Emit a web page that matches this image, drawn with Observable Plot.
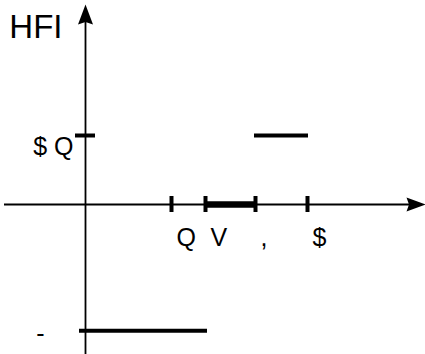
<!DOCTYPE html>
<html>
<head>
<meta charset="utf-8">
<script src="https://cdn.jsdelivr.net/npm/d3@7"></script>
<script src="https://cdn.jsdelivr.net/npm/@observablehq/plot@0.6"></script>
<style>
  html, body { margin: 0; padding: 0; background: #fff; }
</style>
</head>
<body>
<div id="chart"></div>
<script>
// ---- data ----
const xTicks = [1.72, 2.4, 3.4, 4.44];
const xTickLabels = ["Q", "V", ",", "$"];
const yTicks = [1];
const yTickLabels = ["$ Q"];
const lowLevel = -1.83;
const lowLabel = ["-"];
const axisTitle = ["HFI"];
// piecewise segments: [x1, x2, y]
const segX1 = [-0.12, 3.38];
const segX2 = [2.44, 4.46];
const segY = [lowLevel, 1];
// thick interval on the x axis
const bandX1 = [2.4];
const bandX2 = [3.42];
// axis extents (data units)
const xAxisStart = -1.62, xAxisTip = 6.8;
const yAxisBottom = -2.2, yAxisTip = 2.9;

const font = "Liberation Sans, Arial, Helvetica, sans-serif";

const arrowUp = {
  draw(ctx) {
    ctx.moveTo(0, 0);
    ctx.lineTo(7.5, 20);
    ctx.lineTo(0, 17.5);
    ctx.lineTo(-7.5, 20);
    ctx.closePath();
  }
};
const arrowRight = {
  draw(ctx) {
    ctx.moveTo(0, 0);
    ctx.lineTo(-19, 7);
    ctx.lineTo(-16.5, 0);
    ctx.lineTo(-19, -7);
    ctx.closePath();
  }
};

const segs = segX1.map((x1, i) => ({x1, x2: segX2[i], y: segY[i]}));
const bands = bandX1.map((x1, i) => ({x1, x2: bandX2[i]}));

const chart = Plot.plot({
  width: 425,
  height: 354,
  marginTop: 0, marginRight: 0, marginBottom: 0, marginLeft: 0,
  x: {domain: [-1.7, 6.8], axis: null},
  y: {domain: [-150 / 69, 204 / 69], axis: null},
  style: {fontFamily: font, background: "#fff", overflow: "visible"},
  marks: [
    // axes
    Plot.ruleY([0], {x1: xAxisStart, x2: xAxisTip - 0.3, stroke: "black", strokeWidth: 1.8}),
    Plot.ruleX([0], {y1: yAxisBottom, y2: yAxisTip - 0.25, stroke: "black", strokeWidth: 1.8}),
    Plot.dot([xAxisTip], {x: d => d, y: 0, symbol: arrowRight, fill: "black", stroke: "none"}),
    Plot.dot([yAxisTip], {x: 0, y: d => d, symbol: arrowUp, fill: "black", stroke: "none"}),
    // ticks
    Plot.ruleX(xTicks, {x: d => d, y1: 0, y2: 0, insetTop: -8, insetBottom: -8, stroke: "black", strokeWidth: 4}),
    Plot.ruleY(yTicks, {y: d => d, x1: 0, x2: 0, insetLeft: -10, insetRight: -10, stroke: "black", strokeWidth: 4}),
    // thick interval on axis
    Plot.ruleY(bands, {x1: "x1", x2: "x2", y: 0, stroke: "black", strokeWidth: 6.5}),
    // function segments
    Plot.ruleY(segs, {x1: "x1", x2: "x2", y: "y", stroke: "black", strokeWidth: 4}),
    // labels
    Plot.text(xTicks, {x: d => d, y: 0, text: (d, i) => xTickLabels[i], textAnchor: "start", dx: 5, dy: 33, fontSize: 25, fill: "black"}),
    Plot.text(yTicks, {x: 0, y: d => d, text: (d, i) => yTickLabels[i], textAnchor: "end", dx: -12, dy: 11, fontSize: 25, fill: "black"}),
    Plot.text(lowLabel, {x: 0, y: lowLevel, text: d => d, textAnchor: "end", dx: -41, dy: 3, fontSize: 25, fill: "black"}),
    Plot.text(axisTitle, {x: 0, y: yAxisTip, text: d => d, textAnchor: "end", dx: -23, dy: 23, fontSize: 33, fill: "black"})
  ]
});
document.getElementById("chart").appendChild(chart);
</script>
</body>
</html>
